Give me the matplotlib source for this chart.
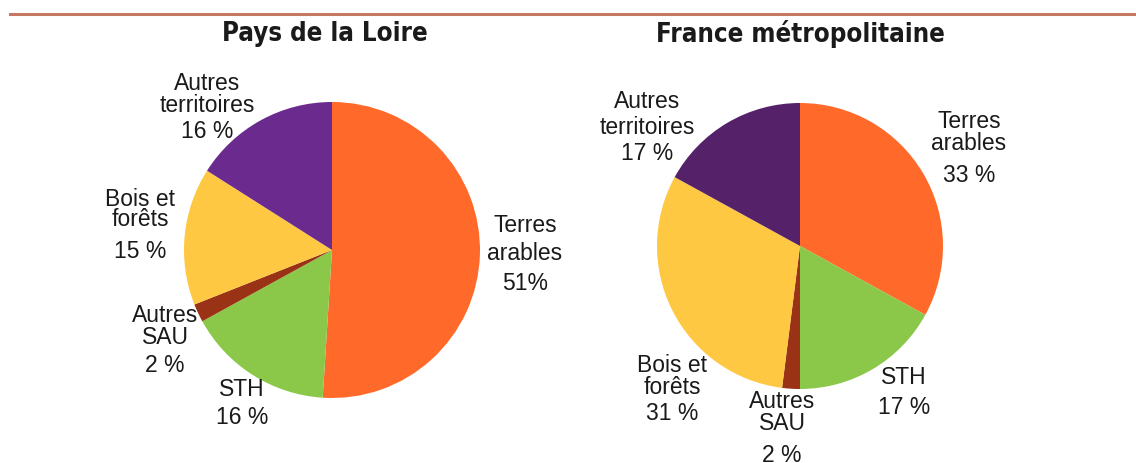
import matplotlib.pyplot as plt
from matplotlib.lines import Line2D

# Data
categories = ['Terres arables', 'STH', 'Autres SAU', 'Bois et forêts', 'Autres territoires']
pdl_values = [51, 16, 2, 15, 16]
fr_values = [33, 17, 2, 31, 17]
titles = ['Pays de la Loire', 'France métropolitaine']

pdl_labels = [['Terres', 'arables', '51%'], ['STH', '16 %'], ['Autres', 'SAU', '2 %'],
              ['Bois et', 'forêts', '15 %'], ['Autres', 'territoires', '16 %']]
fr_labels = [['Terres', 'arables', '33 %'], ['STH', '17 %'], ['Autres', 'SAU', '2 %'],
             ['Bois et', 'forêts', '31 %'], ['Autres', 'territoires', '17 %']]

pdl_colors = ['#FF6A2A', '#8BC84A', '#9A3215', '#FEC843', '#6A2A8E']
fr_colors = ['#FF6A2A', '#8BC84A', '#9A3215', '#FEC843', '#55226A']

# label placement in pixels: x centre and y centre of each line (from top)
pdl_label_x = [525, 242, 165, 140, 207]
pdl_label_y = [[225, 253, 283], [390, 418], [315, 337, 366], [199, 220, 251], [83, 105, 131]]
fr_label_x = [969, 904, 782, 672, 647]
fr_label_y = [[122, 144, 175], [377, 407], [401, 424, 456], [366, 387, 414], [102, 127, 154]]

W, H = 1136, 463
fig = plt.figure(figsize=(W / 100, H / 100), dpi=100)

# top rule
fig.add_artist(Line2D([10 / W, 1.0], [1 - 14 / H, 1 - 14 / H], color='#C47A62', lw=2.2,
                      transform=fig.transFigure))

label_font = ['Liberation Sans', 'DejaVu Sans']


def draw_pie(values, colors, labels, lx, ly, title, cx, cy, r, title_x):
    ax = fig.add_axes([(cx - r) / W, (H - cy - r) / H, 2 * r / W, 2 * r / H])
    ax.pie(values, colors=colors, startangle=90, counterclock=False,
           radius=1, wedgeprops=dict(linewidth=0))
    ax.set_xlim(-1, 1)
    ax.set_ylim(-1, 1)
    ax.set_aspect('equal')
    ax.axis('off')
    for lines, x, ys in zip(labels, lx, ly):
        for s, y in zip(lines, ys):
            fig.text(x / W, 1 - y / H, s, ha='center', va='center', fontsize=16.5,
                     family=label_font, color='#1a1a1a')
    fig.text(title_x / W, 1 - 34 / H, title, ha='center', va='center', fontsize=18.5,
             fontweight='bold', family='DejaVu Sans', fontstretch='condensed', color='#1a1a1a')


draw_pie(pdl_values, pdl_colors, pdl_labels, pdl_label_x, pdl_label_y, titles[0], 332, 250, 148, 325)
draw_pie(fr_values, fr_colors, fr_labels, fr_label_x, fr_label_y, titles[1], 800, 246, 143, 800)

fig.savefig('out.png', dpi=100)
